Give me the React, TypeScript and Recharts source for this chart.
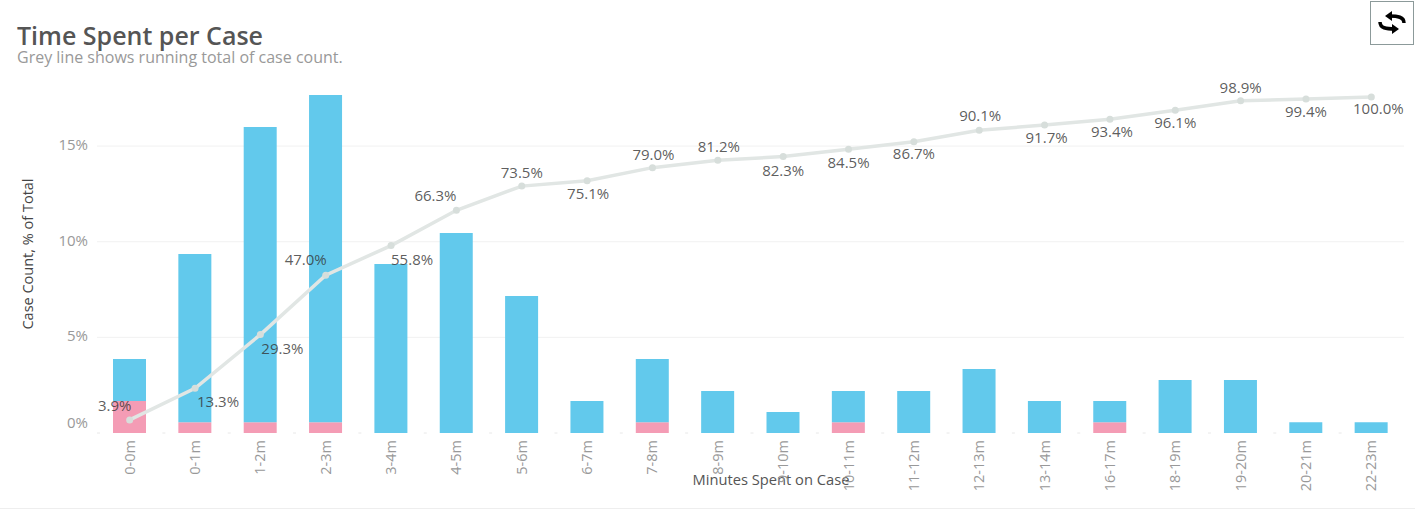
import { Bar, CartesianGrid, ComposedChart, LabelList, Line, XAxis, YAxis } from 'recharts';

const categories = ['0-0m', '0-1m', '1-2m', '2-3m', '3-4m', '4-5m', '5-6m', '6-7m', '7-8m', '8-9m', '9-10m', '10-11m', '11-12m', '12-13m', '13-14m', '16-17m', '18-19m', '19-20m', '20-21m', '22-23m'];
// share of cases, stacked: pink at the bottom, blue on top
const pinkShare = [1.67, 0.56, 0.56, 0.56, 0, 0, 0, 0, 0.56, 0, 0, 0.56, 0, 0, 0, 0.56, 0, 0, 0, 0];
const blueShare = [2.2, 8.8, 15.44, 17.11, 8.83, 10.45, 7.16, 1.67, 3.31, 2.2, 1.1, 1.64, 2.2, 3.35, 1.67, 1.11, 2.77, 2.77, 0.56, 0.56];
const runningTotal = [3.9, 13.3, 29.3, 47.0, 55.8, 66.3, 73.5, 75.1, 79.0, 81.2, 82.3, 84.5, 86.7, 90.1, 91.7, 93.4, 96.1, 98.9, 99.4, 100.0];
const shareTicks = [0, 5, 10, 15];

const chartData = categories.map((name, i) => ({
    name,
    pink: pinkShare[i],
    blue: blueShare[i],
    total: runningTotal[i],
}));

// where each running total label sits relative to its point
const LABEL_OFFSETS = [
    [-15, -14], [23, 14], [22, 14], [-20, -15], [21, 14], [-21, -14], [0, -13], [1, 13], [1, -13], [1, -13],
    [0, 14], [0, 14], [0, 12], [1, -14], [2, 13], [2, 13], [0, 13], [0, -13], [0, 13], [7, 12],
];

const FONT = '"Open Sans", sans-serif';

const ShareTick = ({ x, y, payload }: any) => (
    <text x={x - 1} y={payload.value === 0 ? y - 10 : y - 1} dy={5} textAnchor="end" fill="#999" fontSize={15} fontFamily={FONT}>
        {`${payload.value}%`}
    </text>
);

const CategoryTick = ({ x, y, payload }: any) => (
    <text
        transform={`translate(${x + 5},${y - 1}) rotate(-90)`}
        textAnchor="end"
        fill="#999"
        fontSize={14.5}
        fontFamily={FONT}
    >
        {payload.value}
    </text>
);

const TotalLabel = ({ x, y, index, value }: any) => {
    const [dx, dy] = LABEL_OFFSETS[index];
    return (
        <text x={x + dx} y={y + dy + 5} textAnchor="middle" fill="#333" fillOpacity={0.8} fontSize={15} fontFamily={FONT}>
            {`${value.toFixed(1)}%`}
        </text>
    );
};

const ToggleIcon = () => (
    <svg width={42} height={42} style={{ display: 'block' }}>
        <path d="M33 21 C33 15 27 14 18 14" fill="none" stroke="#000" strokeWidth={3.5} />
        <path d="M21 9 L14 14 L21 19 Z" fill="#000" />
        <path d="M9 20 C9 26 15 27 24 27" fill="none" stroke="#000" strokeWidth={3.5} />
        <path d="M21 22 L28 27 L21 32 Z" fill="#000" />
    </svg>
);

export default function App() {
    return (
        <div style={{ position: 'absolute', left: 0, top: 0, width: 1415, height: 510, background: '#fff', overflow: 'hidden' }}>
            <ComposedChart
                width={1404}
                height={510}
                data={chartData}
                margin={{ top: 88.7, right: 0, bottom: 0, left: 0 }}
                barCategoryGap={0}
            >
                <CartesianGrid yAxisId="share" vertical={false} stroke="#f1f1f1" horizontalValues={[5, 10, 15]} />
                <XAxis
                    dataKey="name"
                    interval={0}
                    height={77}
                    tick={<CategoryTick />}
                    tickLine={false}
                    axisLine={{ stroke: '#e8e8e8', strokeDasharray: '3 62.35' }}
                />
                <YAxis
                    yAxisId="share"
                    width={97}
                    domain={[0, 18]}
                    ticks={shareTicks}
                    tick={<ShareTick />}
                    tickLine={false}
                    axisLine={false}
                />
                <YAxis yAxisId="total" orientation="right" hide domain={[0, 102.5]} />
                <Bar yAxisId="share" dataKey="pink" stackId="a" fill="#f49cb5" barSize={33} isAnimationActive={false} />
                <Bar yAxisId="share" dataKey="blue" stackId="a" fill="#62c9ec" barSize={33} isAnimationActive={false} />
                <Line
                    yAxisId="total"
                    dataKey="total"
                    stroke="#e1e6e4"
                    strokeWidth={3.5}
                    dot={{ r: 3.5, fill: '#d7dedb', stroke: 'none' }}
                    type="linear"
                    isAnimationActive={false}
                >
                    <LabelList dataKey="total" content={<TotalLabel />} />
                </Line>
                <text x={771} y={485} textAnchor="middle" fill="#555" fontSize={14.7} fontFamily={FONT}>
                    Minutes Spent on Case
                </text>
                <text
                    transform="translate(33,254) rotate(-90)"
                    textAnchor="middle"
                    fill="#444"
                    fontSize={14.5}
                    fontFamily={FONT}
                >
                    Case Count, % of Total
                </text>
            </ComposedChart>
            <div style={{ position: 'absolute', left: 17, top: 22, fontFamily: FONT, fontWeight: 600, fontSize: 25, lineHeight: '26px', color: '#555', whiteSpace: 'nowrap' }}>
                Time Spent per Case
            </div>
            <div style={{ position: 'absolute', left: 17, top: 48, fontFamily: FONT, fontSize: 16, lineHeight: '18px', color: '#999', whiteSpace: 'nowrap' }}>
                Grey line shows running total of case count.
            </div>
            <div style={{ position: 'absolute', left: 1370, top: 1, width: 42, height: 42, border: '1px solid #8c9a9a', boxSizing: 'content-box' }}>
                <ToggleIcon />
            </div>
            <div style={{ position: 'absolute', left: 0, top: 508, width: 1415, height: 1, background: '#eee' }} />
        </div>
    );
}
